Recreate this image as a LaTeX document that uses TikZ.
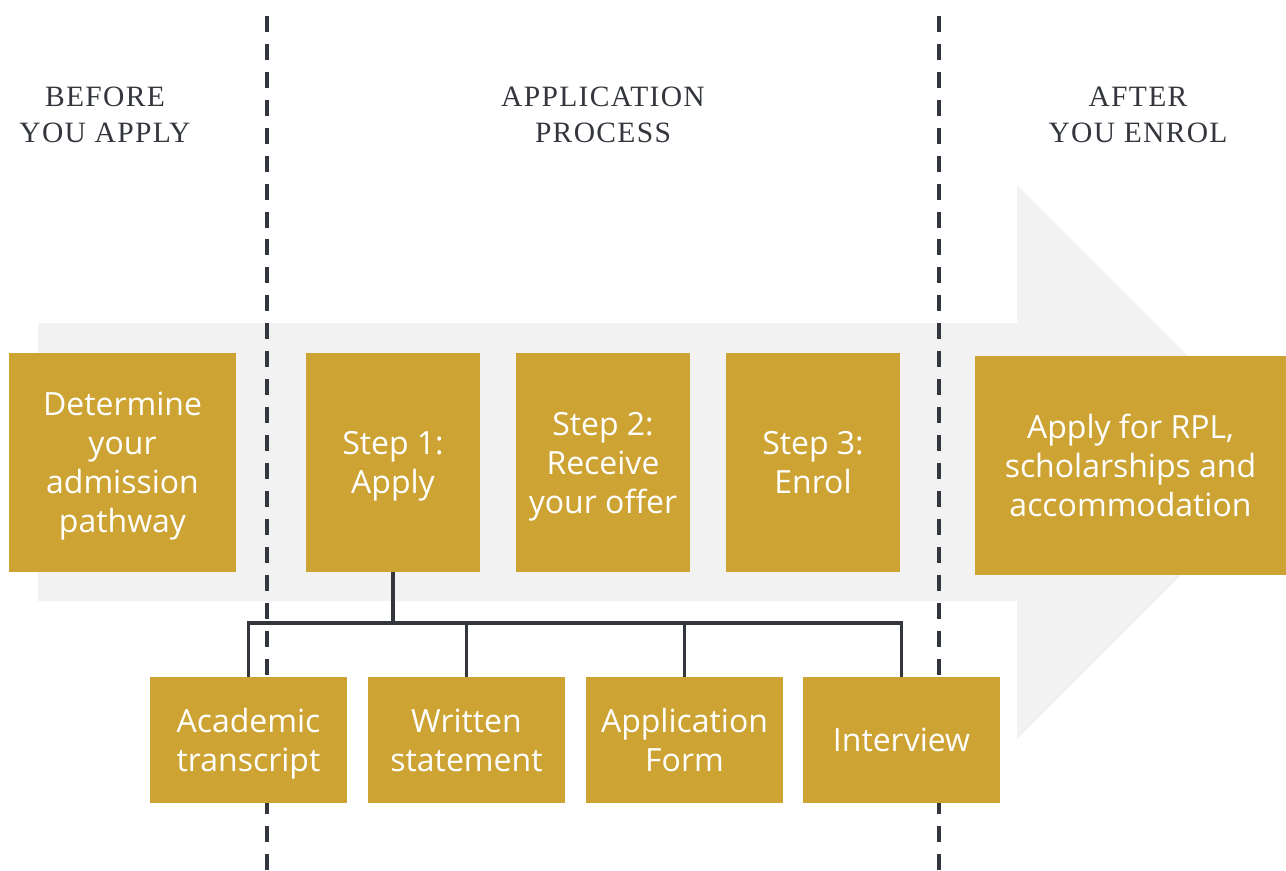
\documentclass[tikz,border=0pt]{standalone}
\usepackage{fontspec}
\setmainfont{Open Sans}
\newfontfamily\hdrfont[LetterSpace=4.5]{Liberation Serif}
\definecolor{gold}{HTML}{CDA434}
\definecolor{bggray}{HTML}{F2F2F2}
\definecolor{ink}{HTML}{33363D}
\tikzset{
  gbox/.style={fill=gold, draw=none, text=white, align=center, inner sep=0pt,
    text depth=0pt, font=\fontsize{18.2pt}{22.2pt}\selectfont},
  hdr/.style={text=ink, align=center, font=\hdrfont\fontsize{16.8pt}{20.5pt}\selectfont},
  divider/.style={ink, line width=2.3pt, dash pattern=on 9.1pt off 6.8pt},
  conn/.style={ink, line width=1.8pt}
}
\begin{document}
\begin{tikzpicture}[x=0.02cm, y=-0.02cm]
\useasboundingbox (0,0) rectangle (1286,870);
% background arrow
\fill[bggray] (38,323) -- (1017,323) -- (1017,185) -- (1294,462) -- (1017,739) -- (1017,601) -- (38,601) -- cycle;
% headers
\node[hdr] (h1) at (105,115) {BEFORE\\YOU APPLY};
\node[hdr] (h2) at (603,115) {APPLICATION\\PROCESS};
\node[hdr] (h3) at (1138,115) {AFTER\\YOU ENROL};
% dividers
\coordinate (d1t) at (267,16); \coordinate (d1b) at (267,870);
\coordinate (d2t) at (939,16); \coordinate (d2b) at (939,870);
\draw[divider] (d1t) -- (d1b);
\draw[divider] (d2t) -- (d2b);
% top boxes
\node[gbox, minimum width=227*0.02cm, minimum height=219*0.02cm] (det) at (122.5,462.5) {Determine\\your\\admission\\pathway};
\node[gbox, minimum width=174*0.02cm, minimum height=219*0.02cm] (s1) at (393,462.5) {Step 1:\\Apply};
\node[gbox, minimum width=174*0.02cm, minimum height=219*0.02cm] (s2) at (603,462.5) {Step 2:\\Receive\\your offer};
\node[gbox, minimum width=174*0.02cm, minimum height=219*0.02cm] (s3) at (813,462.5) {Step 3:\\Enrol};
\node[gbox, minimum width=311*0.02cm, minimum height=219*0.02cm] (rpl) at (1130.5,465.5) {Apply for RPL,\\scholarships and\\accommodation};
% bottom boxes
\node[gbox, minimum width=197*0.02cm, minimum height=126*0.02cm] (b1) at (248.5,740) {Academic\\transcript};
\node[gbox, minimum width=197*0.02cm, minimum height=126*0.02cm] (b2) at (466.5,740) {Written\\statement};
\node[gbox, minimum width=197*0.02cm, minimum height=126*0.02cm] (b3) at (684.5,740) {Application\\Form};
\node[gbox, minimum width=197*0.02cm, minimum height=126*0.02cm] (b4) at (901.5,740) {Interview};
% connectors
\coordinate (j) at (393,623);
\draw[conn, line width=2.3pt] (s1.south) -- (j);
\draw[conn] (j) -| (b1.north);
\draw[conn] (j) -| (b2.north);
\draw[conn] (j) -| (b3.north);
\draw[conn] (j) -| (b4.north);
\end{tikzpicture}
\end{document}
